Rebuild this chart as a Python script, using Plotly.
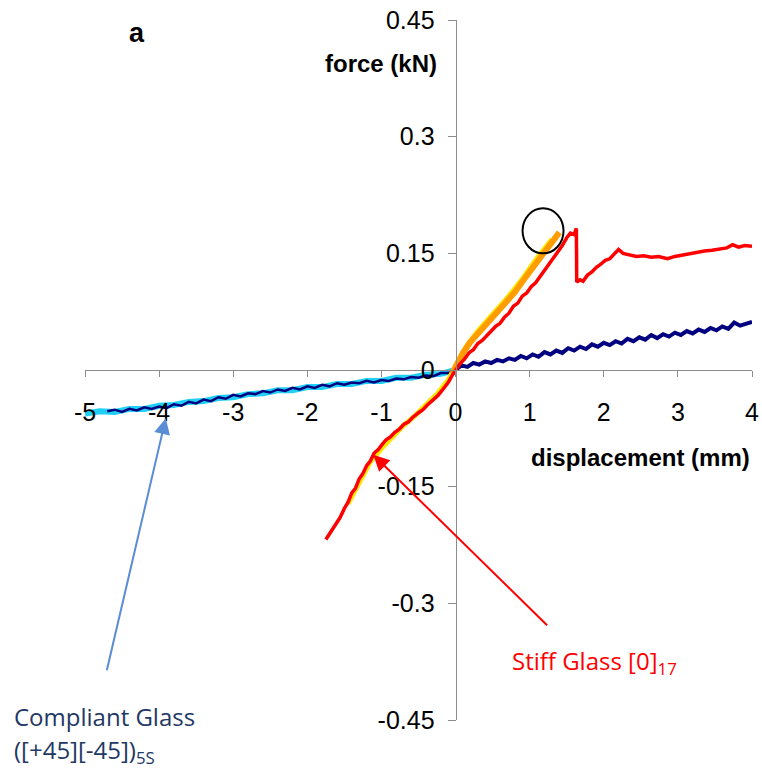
import plotly.graph_objects as go

# ---------------- data ----------------
compliant_pos_x = [0.00, 0.08, 0.16, 0.24, 0.32, 0.40, 0.48, 0.56, 0.64, 0.72, 0.80, 0.88, 0.96,
                   1.04, 1.12, 1.20, 1.28, 1.36, 1.44, 1.52, 1.60, 1.68, 1.76, 1.84, 1.92, 2.00,
                   2.08, 2.16, 2.24, 2.32, 2.40, 2.48, 2.56, 2.64, 2.72, 2.80, 2.88, 2.96, 3.04,
                   3.12, 3.20, 3.28, 3.36, 3.44, 3.52, 3.60, 3.68, 3.76, 3.84, 3.92, 4.00]
compliant_pos_y = [0.000, 0.006, 0.004, 0.009, 0.007, 0.011, 0.009, 0.013, 0.011, 0.015, 0.013, 0.018, 0.015,
                   0.020, 0.017, 0.023, 0.020, 0.025, 0.022, 0.028, 0.025, 0.030, 0.027, 0.033, 0.030, 0.035,
                   0.032, 0.037, 0.034, 0.040, 0.037, 0.042, 0.039, 0.045, 0.041, 0.046, 0.043, 0.048, 0.045,
                   0.050, 0.047, 0.052, 0.049, 0.054, 0.051, 0.056, 0.053, 0.061, 0.057, 0.059, 0.062]

compliant_neg_x = [-4.70, -4.60, -4.50, -4.40, -4.30, -4.20, -4.10, -4.00, -3.90, -3.80, -3.70, -3.60,
                   -3.50, -3.40, -3.30, -3.20, -3.10, -3.00, -2.90, -2.80, -2.70, -2.60, -2.50, -2.40,
                   -2.30, -2.20, -2.10, -2.00, -1.90, -1.80, -1.70, -1.60, -1.50, -1.40, -1.30, -1.20,
                   -1.10, -1.00, -0.90, -0.80, -0.70, -0.60, -0.50, -0.40, -0.30, -0.20, -0.10, 0.00]
compliant_neg_y = [-0.053, -0.051, -0.054, -0.050, -0.052, -0.048, -0.050, -0.047, -0.049, -0.044, -0.046, -0.041,
                   -0.043, -0.038, -0.040, -0.035, -0.037, -0.032, -0.034, -0.030, -0.031, -0.027, -0.029, -0.025,
                   -0.027, -0.023, -0.025, -0.021, -0.023, -0.019, -0.021, -0.017, -0.019, -0.016, -0.017, -0.014,
                   -0.016, -0.013, -0.014, -0.011, -0.012, -0.009, -0.010, -0.007, -0.008, -0.004, -0.004, 0.000]

compliant_neg2_x = [-5.00, -4.80, -4.60, -4.40, -4.20, -4.00, -3.80, -3.60, -3.40, -3.20, -3.00, -2.80, -2.60,
                    -2.40, -2.20, -2.00, -1.80, -1.60, -1.40, -1.20, -1.00, -0.80, -0.60, -0.40, -0.20, 0.00]
compliant_neg2_y = [-0.056, -0.053, -0.054, -0.050, -0.050, -0.046, -0.045, -0.041, -0.040, -0.036, -0.035, -0.031, -0.030,
                    -0.026, -0.026, -0.022, -0.022, -0.018, -0.018, -0.014, -0.014, -0.010, -0.010, -0.006, -0.005, 0.000]

stiff_red_x = [-1.75, -1.71, -1.66, -1.60, -1.56, -1.50, -1.45, -1.40, -1.35, -1.30, -1.25, -1.20, -1.15,
               -1.10, -1.04, -1.00, -0.94, -0.88, -0.82, -0.76, -0.70, -0.64, -0.58, -0.50, -0.44, -0.38,
               -0.30, -0.24, -0.18, -0.10, -0.04, 0.00, 0.06, 0.12, 0.18, 0.24, 0.30, 0.36, 0.42, 0.48,
               0.54, 0.60, 0.66, 0.72, 0.78, 0.84, 0.90, 0.96, 1.02, 1.08, 1.14, 1.20, 1.26, 1.32,
               1.38, 1.44, 1.50, 1.55, 1.60, 1.63, 1.635, 1.68, 1.72, 1.78, 1.84, 1.90, 1.96, 2.02,
               2.08, 2.14, 2.20, 2.26, 2.34, 2.44, 2.54, 2.64, 2.74, 2.86, 2.96, 3.06, 3.16, 3.26,
               3.36, 3.46, 3.56, 3.66, 3.74, 3.82, 3.90, 4.00]
stiff_red_y = [-0.218, -0.212, -0.206, -0.195, -0.190, -0.178, -0.170, -0.158, -0.152, -0.140, -0.133, -0.123, -0.117,
               -0.107, -0.102, -0.097, -0.090, -0.086, -0.080, -0.076, -0.070, -0.067, -0.061, -0.055, -0.051, -0.045,
               -0.038, -0.033, -0.026, -0.016, -0.006, 0.000, 0.008, 0.014, 0.022, 0.026, 0.034, 0.038, 0.044, 0.049,
               0.056, 0.060, 0.068, 0.073, 0.082, 0.086, 0.095, 0.099, 0.107, 0.112, 0.120, 0.127, 0.136, 0.143,
               0.152, 0.160, 0.170, 0.176, 0.174, 0.182, 0.113, 0.116, 0.114, 0.122, 0.126, 0.132, 0.136, 0.141,
               0.143, 0.149, 0.155, 0.150, 0.148, 0.146, 0.147, 0.145, 0.146, 0.143, 0.146, 0.148, 0.149, 0.151,
               0.153, 0.154, 0.156, 0.157, 0.161, 0.158, 0.160, 0.159]

stiff_orange_x = [-0.05, 0.00, 0.10, 0.20, 0.34, 0.45, 0.57, 0.70, 0.80, 0.92, 1.00, 1.10, 1.20, 1.30, 1.40]
stiff_orange_y = [-0.005, 0.005, 0.022, 0.036, 0.051, 0.062, 0.074, 0.089, 0.100, 0.116, 0.126, 0.140, 0.152, 0.165, 0.177]

stiff_yellow_x = [-1.45, -1.30, -1.15, -1.00, -0.85, -0.70, -0.55, -0.40, -0.25, -0.10, 0.00, 0.15, 0.30,
                  0.50, 0.70, 0.90, 1.10, 1.30]
stiff_yellow_y = [-0.172, -0.145, -0.118, -0.101, -0.085, -0.071, -0.059, -0.046, -0.031, -0.013, 0.004, 0.031, 0.050,
                  0.071, 0.093, 0.117, 0.144, 0.168]

x_tick_vals = [-5, -4, -3, -2, -1, 0, 1, 2, 3, 4]
x_tick_text = ["-5", "-4", "-3", "-2", "-1", "0", "1", "2", "3", "4"]
y_tick_vals = [-0.45, -0.3, -0.15, 0, 0.15, 0.3, 0.45]
y_tick_text = ["-0.45", "-0.3", "-0.15", "0", "0.15", "0.3", "0.45"]

# ---------------- figure ----------------
fig = go.Figure()
fig.add_trace(go.Scatter(x=compliant_neg2_x, y=compliant_neg2_y, mode="lines",
                         line=dict(color="#20D0F4", width=6), showlegend=False))
fig.add_trace(go.Scatter(x=compliant_neg_x, y=compliant_neg_y, mode="lines",
                         line=dict(color="#000080", width=2.5), showlegend=False))
fig.add_trace(go.Scatter(x=compliant_pos_x, y=compliant_pos_y, mode="lines",
                         line=dict(color="#000080", width=4), showlegend=False))
fig.add_trace(go.Scatter(x=stiff_yellow_x, y=stiff_yellow_y, mode="lines",
                         line=dict(color="#FFE800", width=5), showlegend=False))
fig.add_trace(go.Scatter(x=stiff_orange_x, y=stiff_orange_y, mode="lines",
                         line=dict(color="#FF9C00", width=6), showlegend=False))
fig.add_trace(go.Scatter(x=stiff_red_x, y=stiff_red_y, mode="lines",
                         line=dict(color="#FF0000", width=3.5), showlegend=False))

axis_gray = "#8C8C8C"
tick_font = dict(family="Liberation Sans, Arial, sans-serif", size=25, color="#000000")

fig.update_layout(
    width=762, height=776,
    margin=dict(l=85, r=10, t=20, b=56, autoexpand=False),
    plot_bgcolor="white", paper_bgcolor="white",
    xaxis=dict(range=[-5, 4], domain=[0, 1], anchor="free", position=0.5, automargin=False,
               showgrid=False, zeroline=False, showline=True, linecolor=axis_gray, linewidth=1,
               ticks="outside", ticklen=6, tickcolor=axis_gray, tickwidth=1,
               tickvals=x_tick_vals, ticktext=x_tick_text, tickfont=tick_font,
               ticklabelstandoff=14),
    yaxis=dict(range=[-0.45, 0.45], domain=[0, 1], anchor="free", position=5 / 9, automargin=False,
               showgrid=False, zeroline=False, showline=True, linecolor=axis_gray, linewidth=1,
               ticks="outside", ticklen=8, tickcolor=axis_gray, tickwidth=1,
               tickvals=y_tick_vals, ticktext=y_tick_text, tickfont=tick_font,
               ticklabelstandoff=8),
)

bold_font = dict(family="Liberation Sans, Arial, sans-serif", size=24, color="#000000")
fig.add_annotation(x=-0.23, y=0.394, xref="x", yref="y", text="<b>force (kN)</b>",
                   showarrow=False, xanchor="right", yanchor="middle", font=bold_font)
fig.add_annotation(x=4.0, y=-0.112, xref="x", yref="y", text="<b>displacement (mm)</b>",
                   showarrow=False, xanchor="right", yanchor="middle", font=bold_font)
fig.add_annotation(x=-4.3, y=0.433, xref="x", yref="y", text="<b>a</b>",
                   showarrow=False, xanchor="center", yanchor="middle",
                   font=dict(family="Liberation Sans, Arial, sans-serif", size=27, color="#000000"))

# circle highlighting the failure point
fig.add_shape(type="circle", xref="x", yref="y", x0=0.904, x1=1.457, y0=0.150, y1=0.208,
              line=dict(color="#000000", width=2))

# arrows
fig.add_annotation(x=-3.91, y=-0.062, ax=-4.71, ay=-0.388, xref="x", yref="y", axref="x", ayref="y",
                   text="", showarrow=True, arrowhead=2, arrowsize=1.6, arrowwidth=2,
                   arrowcolor="#5B8DD6")
fig.add_annotation(x=-1.11, y=-0.109, ax=1.255, ay=-0.330, xref="x", yref="y", axref="x", ayref="y",
                   text="", showarrow=True, arrowhead=2, arrowsize=1.6, arrowwidth=2,
                   arrowcolor="#FF0000")

label_font = "Open Sans, sans-serif"
fig.add_annotation(x=12, y=776 - 716, xref="paper", yref="paper", text="Compliant Glass",
                   showarrow=False, xanchor="left", yanchor="middle",
                   font=dict(family=label_font, size=24, color="#1F3864"))
fig.add_annotation(x=12, y=776 - 751, xref="paper", yref="paper", text="([+45][-45])<sub>5S</sub>",
                   showarrow=False, xanchor="left", yanchor="middle",
                   font=dict(family=label_font, size=24, color="#1F3864"))
fig.add_annotation(x=510, y=776 - 662, xref="paper", yref="paper", text="Stiff Glass [0]<sub>17</sub>",
                   showarrow=False, xanchor="left", yanchor="middle",
                   font=dict(family=label_font, size=24, color="#FF0000"))

# convert pixel-placed text annotations to paper fractions
for ann in fig.layout.annotations:
    if ann.xref == "paper":
        ann.x = (ann.x - 85) / (762 - 85 - 10)
        ann.y = (ann.y - 56) / (776 - 20 - 56)

fig.write_html("out.html")
